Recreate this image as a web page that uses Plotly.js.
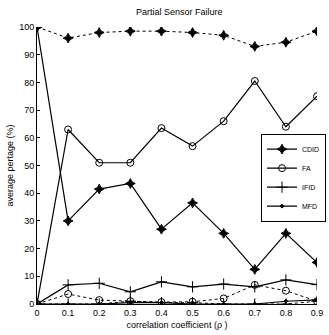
<!DOCTYPE html>
<html><head><meta charset="utf-8">
<script src="https://cdn.plot.ly/plotly-3.0.1.min.js"></script>
<style>body{margin:0;background:#fff}#c{width:329px;height:335px}</style>
</head><body><div id="c"></div>
<script>
const rho = [0, 0.1, 0.2, 0.3, 0.4, 0.5, 0.6, 0.7, 0.8, 0.9];
const tickLabels = ["0","0.1","0.2","0.3","0.4","0.5","0.6","0.7","0.8","0.9"];
// solid series (legend)
const CDID = [100, 30, 41.5, 43.5, 27, 36.5, 25.5, 12.5, 25.5, 15];
const FA   = [0, 63, 51, 51, 63.5, 57, 66, 80.5, 64, 75];
const IFID = [0, 6.9, 7.5, 4.4, 8, 6.2, 7.2, 6.2, 8.7, 7];
const MFD  = [0, 0, 0, 0.5, 0.5, 0, 0, 0, 1, 1.5];
// dashed companion series
const CDID_d = [100, 96, 98, 98.5, 98.5, 98, 97, 93, 94.5, 98.5];
const FA_d   = [0, 3.6, 1.4, 1, 0.7, 0.8, 2, 6.9, 4.8, 1];
const IFID_d = [0, 0, 0, 1, 0.5, 0.5, 0, 0, 0, 1];

const names = ["CDID", "FA", "IFID", "MFD"];
const solidData = [CDID, FA, IFID, MFD];
const dashedData = [CDID_d, FA_d, IFID_d];
const syms = ["star-diamond", "circle-open", "cross-thin-open", "diamond"];
const sizes = [7, 7, 8, 3];

const traces = [];
dashedData.forEach((d, i) => traces.push({
  x: rho, y: d, type: 'scatter', mode: 'lines+markers', showlegend: false,
  line: {color: '#000', width: 1, dash: '3px,3px'},
  marker: {symbol: syms[i], size: sizes[i], color: '#000', line: {color: '#000', width: 1}}
}));
solidData.forEach((d, i) => traces.push({
  x: rho, y: d, type: 'scatter', mode: 'lines+markers', name: names[i],
  line: {color: '#000', width: 1.2},
  marker: {symbol: syms[i], size: sizes[i], color: '#000', line: {color: '#000', width: 1}}
}));

const font = {family: 'Liberation Sans, Arial, sans-serif', size: 9, color: '#000'};
Plotly.newPlot('c', traces, {
  width: 329, height: 335,
  margin: {l: 37, r: 3, t: 27, b: 31},
  paper_bgcolor: '#fff', plot_bgcolor: '#fff',
  font: font,
  title: {text: 'Partial Sensor Failure', font: {family: font.family, size: 9, color: '#000'}, x: 0.545, xanchor: 'center', y: 0.965, yanchor: 'middle'},
  xaxis: {
    range: [0, 0.9], tickvals: rho, ticktext: tickLabels,
    showline: true, linecolor: '#000', linewidth: 1, mirror: false,
    ticks: 'inside', ticklen: 3, tickcolor: '#000', showgrid: false, zeroline: false,
    tickfont: {family: font.family, size: 9, color: '#000'},
    title: {text: 'correlation coefficient (ρ )', font: {family: font.family, size: 9, color: '#000'}, standoff: 4}
  },
  yaxis: {
    range: [0, 100], tickvals: [0,10,20,30,40,50,60,70,80,90,100],
    showline: true, linecolor: '#000', linewidth: 1, mirror: false,
    ticks: 'inside', ticklen: 3, tickcolor: '#000', showgrid: false, zeroline: false,
    tickfont: {family: font.family, size: 9, color: '#000'},
    title: {text: 'average pertage (%)', font: {family: font.family, size: 9, color: '#000'}, standoff: 4}
  },
  legend: {
    x: 0.80, y: 0.615, xanchor: 'left', yanchor: 'top',
    bgcolor: '#fff', bordercolor: '#000', borderwidth: 1,
    font: {family: font.family, size: 7, color: '#000'},
    itemwidth: 30, tracegroupgap: 0
  },
  showlegend: true
}, {staticPlot: true, displayModeBar: false});
</script></body></html>
